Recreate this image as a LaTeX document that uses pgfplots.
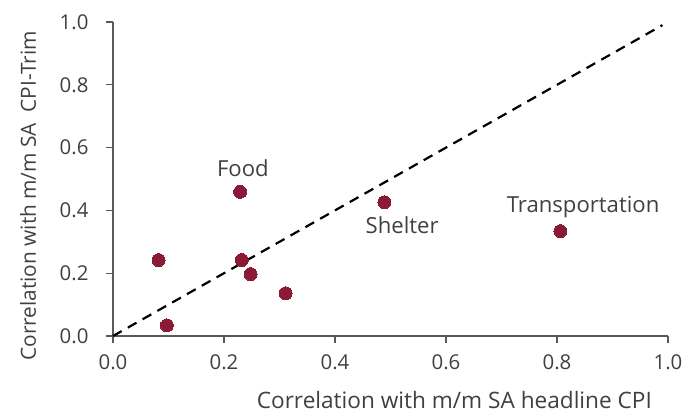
\documentclass[border=0pt]{standalone}
\usepackage{pgfplots}
\pgfplotsset{compat=1.18}
\usepackage{fontspec}
\setmainfont{Open Sans}
\definecolor{dotred}{HTML}{8A1A35}
\definecolor{axgray}{HTML}{595959}
\definecolor{txt}{HTML}{404040}
\begin{document}
\begin{tikzpicture}[x=1bp,y=1bp]
\path[use as bounding box] (-113,-77) rectangle (584,336);
\begin{axis}[
  at={(0,0)}, anchor=origin,
  scale only axis, width=555bp, height=314bp,
  xmin=0, xmax=1, ymin=0, ymax=1,
  axis x line*=bottom, axis y line*=left,
  axis line style={axgray, line width=1.3bp, -},
  xtick={0,0.2,...,1.0}, ytick={0,0.2,...,1.0},
  tick style={axgray, line width=1.3bp},
  tick align=outside, major tick length=7bp,
  /pgf/number format/assume math mode=true,
  /pgf/number format/.cd, fixed, fixed zerofill, precision=1, /pgfplots/.cd,
  ticklabel style={font=\fontsize{20.5}{22}\selectfont, text=txt},
  xticklabel style={yshift=-8.5bp},
  yticklabel style={xshift=-14bp},
  clip=false,
]
\addplot[black, line width=2.2bp, dash pattern=on 10bp off 7bp, forget plot] coordinates {(0,0) (0.99,0.99)};
\addplot[only marks, mark=*, mark size=6.5bp, mark options={fill=dotred, draw=dotred, line width=0pt}] coordinates {
 (0.229,0.459)
 (0.082,0.242)
 (0.097,0.034)
 (0.232,0.242)
 (0.248,0.197)
 (0.311,0.136)
 (0.489,0.426)
 (0.806,0.334)
};
\node[text=txt, font=\fontsize{22.2}{24}\selectfont] at (axis cs:0.234,0.535) {Food};
\node[text=txt, font=\fontsize{22.2}{24}\selectfont] at (axis cs:0.521,0.354) {Shelter};
\node[text=txt, font=\fontsize{22.2}{24}\selectfont] at (axis cs:0.847,0.411) {Transportation};
\node[text=txt, font=\fontsize{22.7}{24}\selectfont] at (axis cs:0.615,-0.204) {Correlation with m/m SA headline CPI};
\node[text=txt, font=\fontsize{20.9}{22}\selectfont, rotate=90] at (axis cs:-0.153,0.446) {Correlation with m/m SA\ \ CPI-Trim};
\end{axis}
\end{tikzpicture}
\end{document}
